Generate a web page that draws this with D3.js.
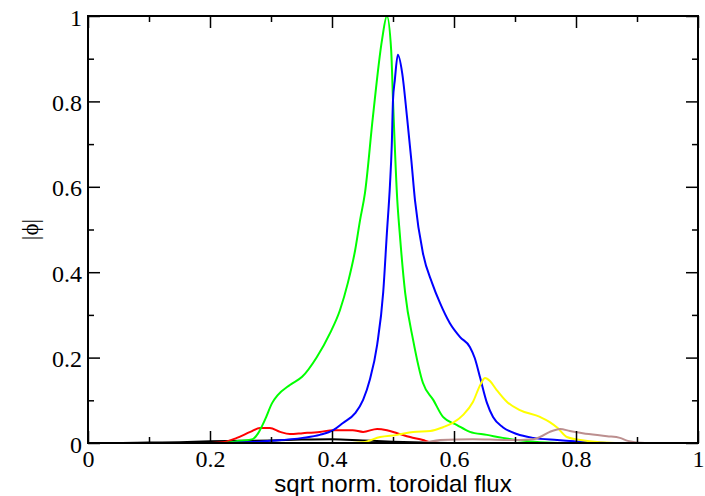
<!DOCTYPE html>
<html lang="en">
<head>
<meta charset="UTF-8">
<title>phi</title>
<style>
  body { margin: 0; background: #fff; }
</style>
</head>
<body>
<svg width="705" height="496" id="svg"></svg>
<script src="https://d3js.org/d3.v7.min.js"></script>
<script>
// series data, [x, |phi|]
const black = [[0.056,0],[0.1,0.001],[0.15,0.002],[0.2,0.004],[0.25,0.005],[0.3,0.006],[0.35,0.008],[0.4,0.009],[0.45,0.006],[0.5,0.003],[0.55,0.001],[0.6,0],[1.0,0]]
const red = [[0.056,0],[0.184,0],[0.221,0.002],[0.244,0.012],[0.266,0.026],[0.282,0.035],[0.298,0.035],[0.315,0.026],[0.331,0.021],[0.352,0.023],[0.38,0.026],[0.402,0.03],[0.434,0.03],[0.451,0.026],[0.474,0.033],[0.49,0.03],[0.507,0.023],[0.528,0.014],[0.549,0.007],[0.561,0.002],[0.593,0],[1.0,0]]
const green = [[0.056,0],[0.2,0],[0.221,0],[0.249,0.005],[0.27,0.009],[0.279,0.023],[0.29,0.054],[0.302,0.094],[0.311,0.112],[0.331,0.136],[0.351,0.155],[0.375,0.201],[0.397,0.258],[0.413,0.311],[0.426,0.375],[0.438,0.452],[0.446,0.522],[0.454,0.585],[0.467,0.763],[0.482,0.944],[0.49,1.0],[0.497,0.92],[0.5,0.803],[0.507,0.569],[0.511,0.492],[0.52,0.351],[0.533,0.241],[0.549,0.141],[0.566,0.101],[0.582,0.061],[0.605,0.042],[0.626,0.026],[0.654,0.019],[0.68,0.012],[0.703,0.007],[0.741,0.002],[0.8,0],[1.0,0]]
const blue = [[0.056,0],[0.233,0],[0.298,0.005],[0.352,0.012],[0.38,0.019],[0.402,0.03],[0.418,0.047],[0.438,0.07],[0.451,0.101],[0.462,0.148],[0.474,0.23],[0.484,0.354],[0.49,0.492],[0.495,0.604],[0.498,0.698],[0.5,0.803],[0.503,0.85],[0.508,0.909],[0.515,0.867],[0.523,0.763],[0.53,0.663],[0.536,0.569],[0.549,0.445],[0.564,0.375],[0.577,0.328],[0.593,0.281],[0.61,0.248],[0.626,0.225],[0.634,0.199],[0.643,0.152],[0.654,0.094],[0.664,0.061],[0.68,0.037],[0.703,0.021],[0.73,0.012],[0.769,0.007],[0.823,0.002],[0.872,0],[1.0,0]]
const yellow = [[0.056,0],[0.413,0],[0.451,0.002],[0.479,0.014],[0.507,0.019],[0.533,0.026],[0.561,0.028],[0.582,0.037],[0.598,0.047],[0.615,0.066],[0.631,0.096],[0.643,0.136],[0.651,0.152],[0.659,0.145],[0.67,0.124],[0.687,0.096],[0.708,0.077],[0.741,0.061],[0.757,0.049],[0.77,0.035],[0.785,0.014],[0.807,0.007],[0.839,0.002],[0.889,0],[1.0,0]]
const brown = [[0.056,0],[0.544,0],[0.577,0.007],[0.631,0.009],[0.687,0.007],[0.73,0.009],[0.741,0.014],[0.757,0.026],[0.774,0.033],[0.79,0.028],[0.811,0.023],[0.851,0.016],[0.872,0.012],[0.885,0.005],[0.913,0],[1.0,0]]

const majorTicks = [0, 0.2, 0.4, 0.6, 0.8, 1]
const minorTicks = [0.1, 0.3, 0.5, 0.7, 0.9]
const tickLabels = ["0", "0.2", "0.4", "0.6", "0.8", "1"]

const series = [
  { data: black, color: "#000000" },
  { data: red, color: "#ff0000" },
  { data: green, color: "#00ff00" },
  { data: blue, color: "#0000ff" },
  { data: yellow, color: "#ffff00" },
  { data: brown, color: "#bc8f8f" }
]

const SERIF = '"Liberation Serif"'
const SANS = '"Liberation Sans"'

const svg = d3.select("svg#svg")
const m = { left: 88, right: 7, top: 16, bottom: 53 }
const W = 705 - m.left - m.right
const H = 496 - m.top - m.bottom

const x = d3.scaleLinear().domain([0, 1]).range([0, W])
const y = d3.scaleLinear().domain([0, 1]).range([H, 0])

const g = svg.append("g").attr("transform", `translate(${m.left},${m.top})`)

// curves
const line = d3.line().x(d => x(d[0])).y(d => y(d[1])).curve(d3.curveMonotoneX)
g.selectAll("path.curve").data(series).join("path")
  .attr("class", "curve")
  .attr("d", d => line(d.data))
  .attr("fill", "none")
  .attr("stroke", d => d.color)
  .attr("stroke-width", 2)
  .attr("stroke-linejoin", "round")

// axes (ticks inward, mirrored on top/right)
const fmt = d => tickLabels[majorTicks.indexOf(d)]
function addAxis(axis, tr, labels) {
  const a = g.append("g").attr("transform", tr).call(axis)
  a.select(".domain").remove()
  a.selectAll(".tick line").attr("stroke", "#000").attr("stroke-width", 1.5)
  a.selectAll("text")
    .style("font-family", SERIF)
    .style("font-size", "24px")
    .attr("fill", "#000")
  if (!labels) a.selectAll("text").remove()
  return a
}
addAxis(d3.axisBottom(x).tickValues(majorTicks).tickFormat(fmt).tickSize(-12).tickPadding(7), `translate(0,${H})`, true)
addAxis(d3.axisBottom(x).tickValues(minorTicks).tickSize(-6), `translate(0,${H})`, false)
addAxis(d3.axisTop(x).tickValues(majorTicks).tickSize(-12), "translate(0,0)", false)
addAxis(d3.axisTop(x).tickValues(minorTicks).tickSize(-6), "translate(0,0)", false)
const yl = addAxis(d3.axisLeft(y).tickValues(majorTicks).tickFormat(fmt).tickSize(-12).tickPadding(6), "translate(0,0)", true)
yl.selectAll("text").attr("dy", "0.38em")
addAxis(d3.axisLeft(y).tickValues(minorTicks).tickSize(-6), "translate(0,0)", false)
addAxis(d3.axisRight(y).tickValues(majorTicks).tickSize(-12), `translate(${W},0)`, false)
addAxis(d3.axisRight(y).tickValues(minorTicks).tickSize(-6), `translate(${W},0)`, false)

// frame
g.append("rect").attr("width", W).attr("height", H)
  .attr("fill", "none").attr("stroke", "#000").attr("stroke-width", 2)

// titles
svg.append("text")
  .attr("x", m.left + W / 2).attr("y", 492)
  .attr("text-anchor", "middle")
  .style("font-family", SANS)
  .style("font-size", "24px")
  .text("sqrt norm. toroidal flux")

svg.append("text")
  .attr("transform", `translate(38,${m.top + H / 2}) rotate(-90)`)
  .attr("text-anchor", "middle")
  .style("font-family", SERIF)
  .style("font-size", "23px")
  .text("|ϕ|")
</script>
</body>
</html>
